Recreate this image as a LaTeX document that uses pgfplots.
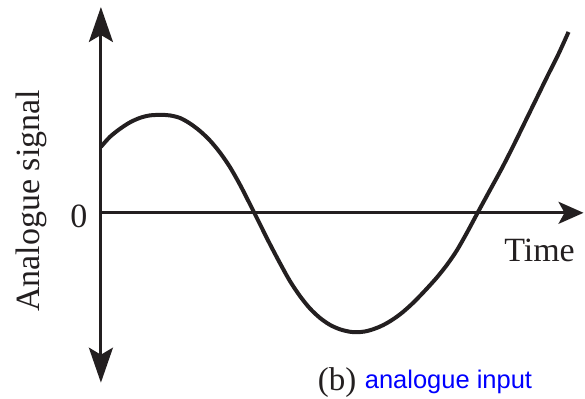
\documentclass[border=0pt]{standalone}
\usepackage{pgfplots}
\pgfplotsset{compat=1.18}
\usepackage{fontspec}
\setmainfont{Liberation Serif}
\newfontfamily\sansf{Liberation Sans}
\usetikzlibrary{arrows.meta}
\definecolor{ink}{RGB}{35,31,32}
\begin{document}
\begin{tikzpicture}
\begin{axis}[
  scale only axis, width=585pt, height=399pt,
  xmin=0, xmax=585, ymin=0, ymax=399, y dir=reverse,
  hide axis, clip=false,
]
\path (axis cs:0,0) rectangle (axis cs:585,399);
% vertical axis with arrows at both ends
\addplot[ink, line width=3pt, {Stealth[length=35pt,width=24pt,inset=7pt]}-{Stealth[length=35pt,width=24pt,inset=7pt]}]
  coordinates {(101,383) (101,7)};
% horizontal axis
\addplot[ink, line width=3pt, -{Stealth[length=25pt,width=22pt,inset=6pt]}]
  coordinates {(101,213) (584,213)};
% analogue signal
\addplot[ink, line width=4pt, smooth, tension=0.5, line cap=butt] coordinates {
(101,147)(110,137)(120,129)(130,122.5)(140,118)(150,115.5)(161,115)(170,115.5)
(180,118)(190,123.5)(200,131)(210,140.5)(220,152.5)(230,167)(240,184.5)(250,204)
(255,214)(260,224)(270,244)(280,263)(290,281)(300,296)(310,308.5)(320,318)
(330,325)(340,329.5)(350,332)(357,332.5)(365,331.8)(372,330)(380,327)(387,323.5)
(395,318.5)(403,312.5)(412,304.5)(420,296.5)(428,288)(437,278)(447,265.5)(457,251)
(467,233.5)(478,213)(490,191)(502,169)(513,147.5)(525,123)(537,98.5)(548,76)
(559,54)(569,32)
};
\node[rotate=90, font=\fontsize{34}{40}\selectfont, text=ink, inner sep=0pt] at (axis cs:31,201) {Analogue signal};
\node[font=\fontsize{34}{40}\selectfont, text=ink, inner sep=0pt] at (axis cs:79,217) {0};
\node[font=\fontsize{34}{40}\selectfont, text=ink, inner sep=0pt, anchor=base] at (axis cs:540,262) {Time};
\node[font=\fontsize{33}{40}\selectfont, text=ink, inner sep=0pt, anchor=base west] at (axis cs:318,391) {(b)};
\node[font=\sansf\fontsize{25.5}{30}\selectfont, text={rgb,255:red,0;green,0;blue,255}, inner sep=0pt, anchor=base west] at (axis cs:365,389) {analogue input};
\end{axis}
\end{tikzpicture}
\end{document}
